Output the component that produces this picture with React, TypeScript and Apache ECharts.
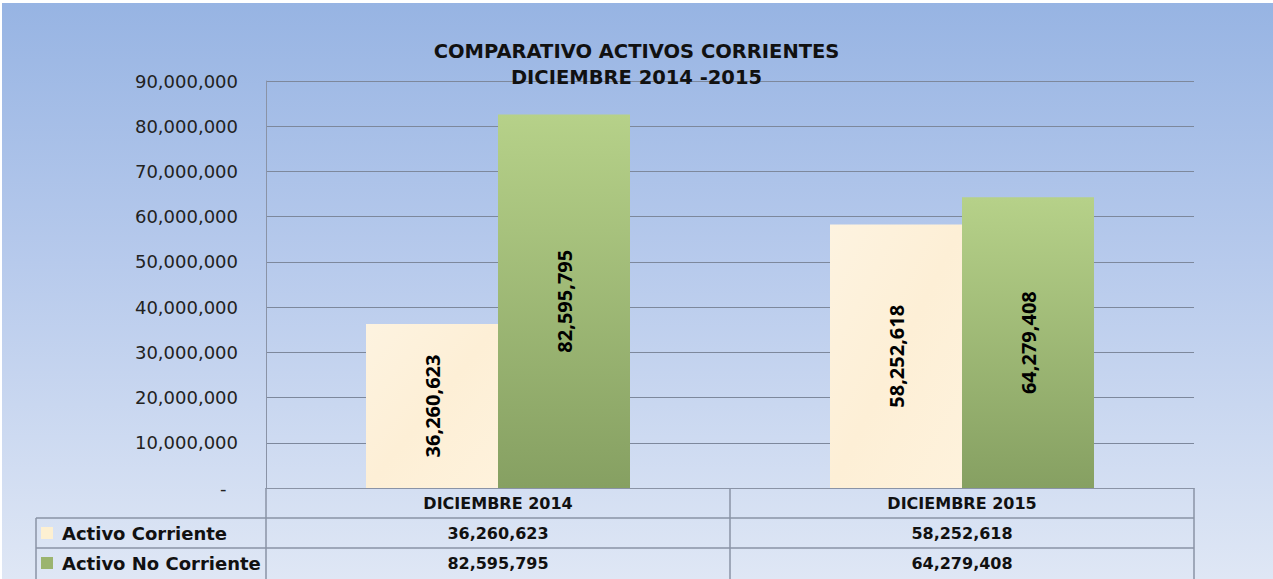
import React, { useEffect, useRef } from "react";
import * as echarts from "echarts";

const categories = ["DICIEMBRE 2014", "DICIEMBRE 2015"];
const seriesNames = ["Activo Corriente", "Activo No Corriente"];
const activoCorriente = [36260623, 58252618];
const activoNoCorriente = [82595795, 64279408];
const yTicks = [0, 10000000, 20000000, 30000000, 40000000, 50000000, 60000000, 70000000, 80000000, 90000000];
const titleLines = ["COMPARATIVO ACTIVOS CORRIENTES", "DICIEMBRE 2014 -2015"];

const fmt = (v: number) => v.toLocaleString("en-US");

const W = 1273;
const H = 579;
const GRID_L = 266;
const GRID_R = 1194;
const GRID_T = 81;
const GRID_B = 488;
const ROW_H = 30;
const TABLE_LEFT = 36;
const LINE = "#8a93a6";
const FONT = "DejaVu Sans";

export default function App() {
  const ref = useRef<HTMLDivElement>(null);
  useEffect(() => {
    if (!ref.current) return;
    const chart = echarts.init(ref.current, null, { renderer: "svg", width: W, height: H });
    const creamFill = new echarts.graphic.LinearGradient(0, 0, 1, 1, [
      { offset: 0, color: "#fdf3e0" },
      { offset: 0.5, color: "#fdefd6" },
      { offset: 1, color: "#fef2dc" },
    ]);
    const greenFill = new echarts.graphic.LinearGradient(0, 0, 0, 1, [
      { offset: 0, color: "#b6d189" },
      { offset: 1, color: "#86a062" },
    ]);
    const labelStyle = {
      show: true,
      position: "inside" as const,
      rotate: 90,
      fontFamily: "Open Sans",
      fontWeight: "bold" as const,
      fontSize: 20,
      color: "#000",
      formatter: (p: any) => fmt(p.value),
    };
    chart.setOption({
      animation: false,
      title: {
        text: titleLines.join("\n"),
        left: "center",
        top: 33,
        textStyle: { fontFamily: FONT, fontWeight: "bold", fontSize: 19.5, lineHeight: 26, color: "#111" },
      },
      legend: {
        orient: "vertical",
        left: 41,
        top: GRID_B + ROW_H,
        padding: 0,
        itemWidth: 12,
        itemHeight: 12,
        itemGap: 0,
        icon: "rect",
        selectedMode: false,
        data: [
          { name: seriesNames[0], itemStyle: { color: "#fdf0d2" } },
          { name: seriesNames[1], itemStyle: { color: "#9bb46f" } },
        ],
        textStyle: { fontFamily: FONT, fontWeight: "bold", fontSize: 18, lineHeight: ROW_H, color: "#111", padding: [0, 0, 0, 4] },
      },
      grid: { left: GRID_L, right: W - GRID_R, top: GRID_T, bottom: H - GRID_B, containLabel: false },
      xAxis: {
        type: "category",
        data: categories,
        axisLine: { show: true, lineStyle: { color: LINE, width: 1 } },
        axisTick: { show: false },
        axisLabel: { margin: 7, fontFamily: FONT, fontWeight: "bold", fontSize: 16, color: "#111" },
      },
      yAxis: {
        type: "value",
        min: 0,
        max: 90000000,
        interval: 10000000,
        axisLine: { show: true, lineStyle: { color: LINE, width: 1 } },
        axisTick: { show: false },
        splitLine: { lineStyle: { color: "#7d889c", width: 1 } },
        axisLabel: {
          margin: 28,
          fontFamily: FONT,
          fontSize: 18,
          color: "#222",
          formatter: (v: number) => (v === 0 ? "-  " : fmt(v)),
          customValues: yTicks,
        },
      },
      series: [
        {
          name: seriesNames[0],
          type: "bar",
          data: activoCorriente,
          barWidth: 132,
          barGap: "0%",
          itemStyle: { color: creamFill },
          label: labelStyle,
        },
        {
          name: seriesNames[1],
          type: "bar",
          data: activoNoCorriente,
          barWidth: 132,
          barGap: "0%",
          itemStyle: { color: greenFill },
          label: labelStyle,
        },
      ],
    });

    const centers = categories.map((_, i) => chart.convertToPixel({ xAxisIndex: 0 }, i) as number);
    const yBase = chart.convertToPixel({ yAxisIndex: 0 }, 0) as number;
    const right = GRID_R;
    const mid = (centers[0] + centers[1]) / 2;
    const lineStyle = { stroke: LINE, lineWidth: 1.5 };
    const els: any[] = [];
    els.push({ type: "line", shape: { x1: TABLE_LEFT, y1: yBase + ROW_H, x2: right, y2: yBase + ROW_H }, style: lineStyle });
    els.push({ type: "line", shape: { x1: TABLE_LEFT, y1: yBase + 2 * ROW_H, x2: right, y2: yBase + 2 * ROW_H }, style: lineStyle });
    els.push({ type: "line", shape: { x1: TABLE_LEFT, y1: yBase + ROW_H, x2: TABLE_LEFT, y2: H }, style: lineStyle });
    els.push({ type: "line", shape: { x1: GRID_L, y1: yBase, x2: GRID_L, y2: H }, style: lineStyle });
    els.push({ type: "line", shape: { x1: mid, y1: yBase, x2: mid, y2: H }, style: lineStyle });
    els.push({ type: "line", shape: { x1: right, y1: yBase, x2: right, y2: H }, style: lineStyle });
    const rows = [activoCorriente, activoNoCorriente];
    rows.forEach((vals, r) => {
      vals.forEach((v, c) => {
        els.push({
          type: "text",
          x: centers[c],
          y: yBase + ROW_H * (r + 1) + ROW_H / 2,
          style: {
            text: fmt(v),
            align: "center",
            verticalAlign: "middle",
            fontFamily: FONT,
            fontWeight: "bold",
            fontSize: 16,
            fill: "#111",
          },
        });
      });
    });
    chart.setOption({ graphic: { elements: els } });

    return () => chart.dispose();
  }, []);

  return (
    <div style={{ position: "fixed", left: 0, top: 0, width: W, height: H, background: "#fff" }}>
      <div
        style={{
          position: "absolute",
          left: 2,
          top: 3,
          width: W - 2,
          height: H - 3,
          background: "linear-gradient(180deg, #97b4e3 0%, #b7caec 45%, #dfe7f5 100%)",
        }}
      />
      <div ref={ref} style={{ position: "absolute", left: 0, top: 0, width: W, height: H }} />
    </div>
  );
}
